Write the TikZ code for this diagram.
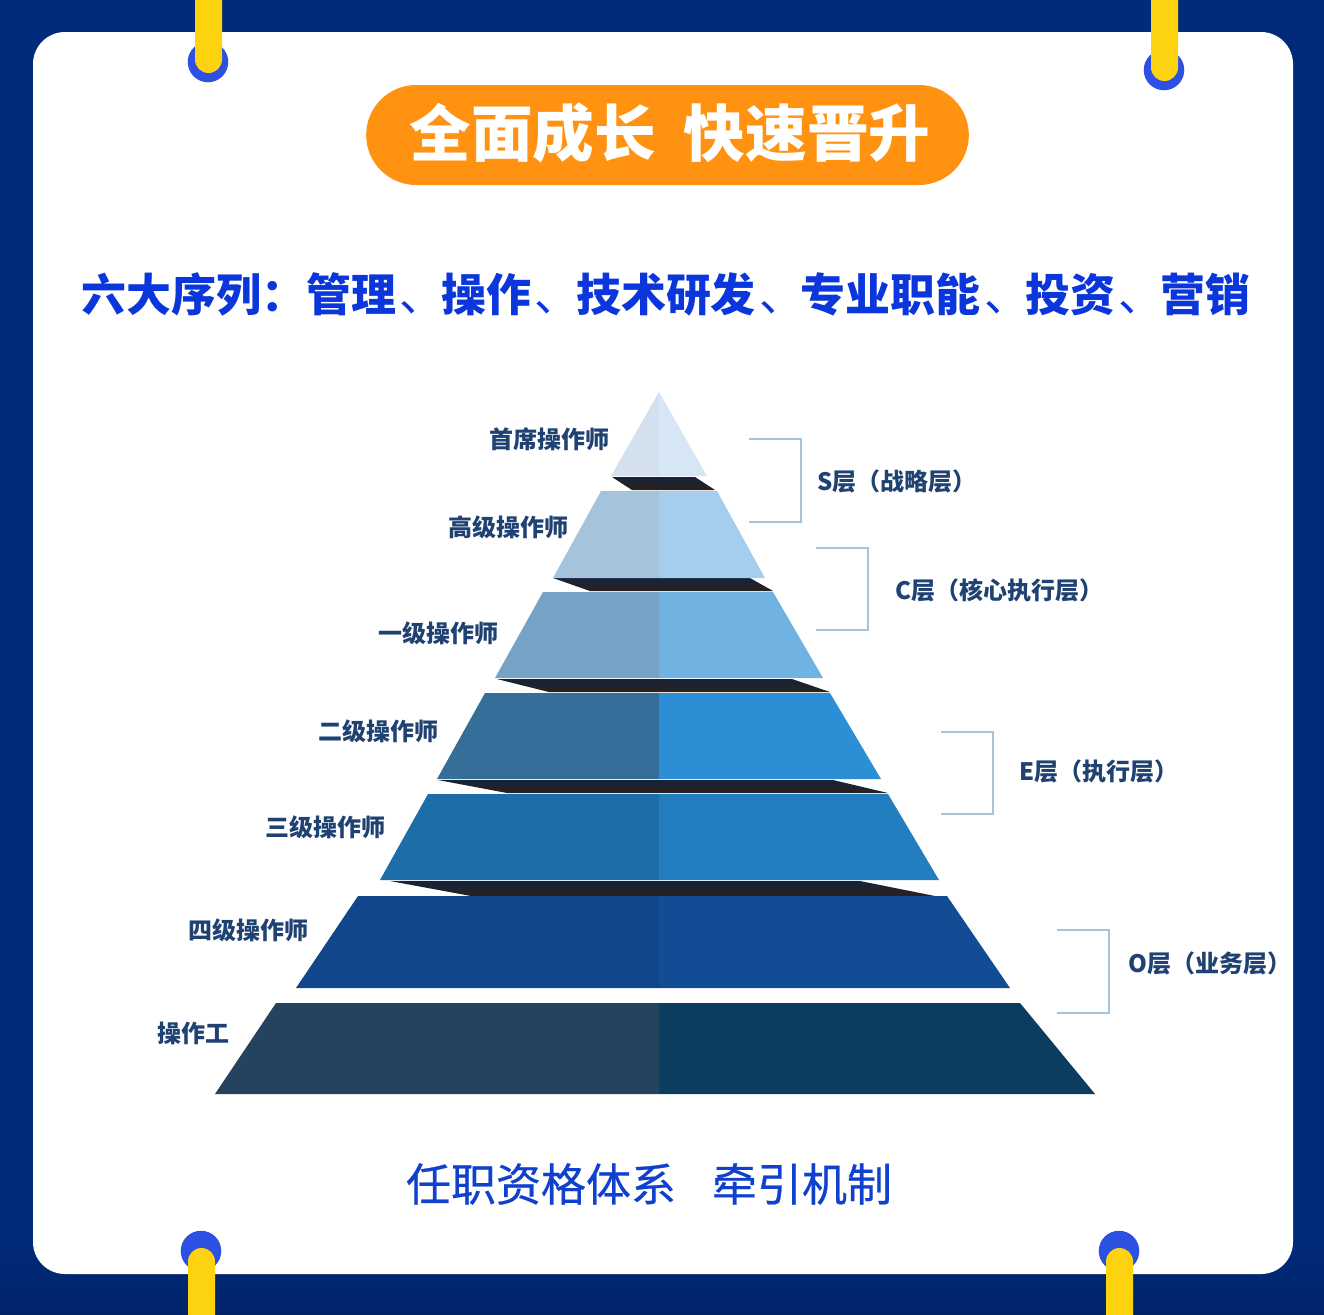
\documentclass[tikz,border=0pt]{standalone}
\usepackage{fontspec}
\setmainfont{Noto Sans CJK SC}
\newfontfamily\footfont[FakeBold=0.5]{Noto Sans CJK SC}
\definecolor{navyA}{HTML}{012B7A}
\definecolor{navyB}{HTML}{02349C}
\definecolor{navyC}{HTML}{00246A}
\definecolor{pinblue}{HTML}{2B50E2}
\definecolor{pinyellow}{HTML}{FDD20E}
\definecolor{pillorange}{HTML}{FF9311}
\definecolor{headblue}{HTML}{0A36DC}
\definecolor{footblue}{HTML}{1040CE}
\definecolor{labnavy}{HTML}{1F4273}
\definecolor{bracketc}{HTML}{A9C4D8}
\definecolor{shadowtop}{HTML}{14233A}
\definecolor{shadowbot}{HTML}{2A211F}
\tikzset{
  x=0.75pt,y=-0.75pt,
  pinbar/.style={fill=pinyellow,rounded corners=10.1pt},
  pindot/.style={fill=pinblue},
  bracket/.style={draw=bracketc,line width=1.2pt,line join=miter},
  shadowpoly/.style={top color=shadowtop,middle color=shadowbot,bottom color=shadowbot},
  lab/.style={font=\fontsize{18}{20}\selectfont\bfseries,text=labnavy,inner sep=0pt},
  tierlab/.style={lab,anchor=west},
  rowlab/.style={lab,anchor=east},
}
\newcommand{\tierpoly}[8]{%
  \fill[#7] (659,#1) -- (#3,#1) -- (#4,#2) -- (659,#2) -- cycle;
  \fill[#8] (659,#1) -- (#5,#1) -- (#6,#2) -- (659,#2) -- cycle;
}
\newcommand{\dunhao}{\hspace{.08em}{\mdseries 、}\hspace{-.08em}}
\begin{document}
\begin{tikzpicture}
\useasboundingbox (0,0) rectangle (1324,1314);
\clip (0,0) rectangle (1324,1314);
% background
\fill[navyA] (0,0) rectangle (1324,1314);
\shade[top color=navyA,middle color=navyB,bottom color=navyC] (0,1234) rectangle (1324,1314);
\fill[white,rounded corners=24pt] (33,32) rectangle (1293,1274);
% pins
\fill[pindot] (208,62) circle (15.2pt);
\fill[pinbar] (195,-40) rectangle (222,73);
\fill[pindot] (1164,70) circle (15.2pt);
\fill[pinbar] (1151,-40) rectangle (1178,81);
\fill[pindot] (201,1251) circle (15.2pt);
\fill[pinbar] (188,1248) rectangle (215,1360);
\fill[pindot] (1119,1251) circle (15.2pt);
\fill[pinbar] (1106,1248) rectangle (1133,1360);
% title
\node (pill) [fill=pillorange,rounded corners=37.5pt,minimum width=452pt,minimum height=75pt,inner sep=0pt] at (667.5,135) {};
\node (title) [text=white,inner sep=0pt,font=\fontsize{46.2}{50}\selectfont\bfseries] at (670,133)
  {全面成长\hspace{21pt}快速晋升};
\node (heading) [text=headblue,inner sep=0pt,font=\fontsize{33.7}{38}\selectfont\bfseries] at (666,294)
  {六大序列：管理\dunhao 操作\dunhao 技术研发\dunhao 专业职能\dunhao 投资\dunhao 营销};
% pyramid
\shade[shadowpoly] (612,477) -- (695,477) -- (715,490) -- (632,490) -- cycle;
\shade[shadowpoly] (553,578) -- (750,578) -- (773,591) -- (590,591) -- cycle;
\shade[shadowpoly] (497,679) -- (792,679) -- (830,692) -- (549,692) -- cycle;
\shade[shadowpoly] (438,780) -- (833,780) -- (888,793) -- (507,793) -- cycle;
\shade[shadowpoly] (390,881) -- (860,881) -- (935,896) -- (471,896) -- cycle;
\definecolor{aL}{HTML}{D3E0EE}\definecolor{aR}{HTML}{D6E6F5}
\definecolor{bL}{HTML}{A6C3DC}\definecolor{bR}{HTML}{A4CDEE}
\definecolor{cL}{HTML}{76A2C6}\definecolor{cR}{HTML}{70B2E2}
\definecolor{dL}{HTML}{366E9A}\definecolor{dR}{HTML}{2C8FD6}
\definecolor{eL}{HTML}{1C6DA8}\definecolor{eR}{HTML}{227EBE}
\definecolor{fL}{HTML}{11468A}\definecolor{fR}{HTML}{114C94}
\definecolor{gL}{HTML}{24435F}\definecolor{gR}{HTML}{0C3D60}
\tierpoly{392}{476}{659}{611}{659}{707}{aL}{aR}
\tierpoly{491}{578}{601}{553}{717}{765}{bL}{bR}
\tierpoly{592}{678}{543}{495}{773}{823}{cL}{cR}
\tierpoly{693}{779}{485}{437}{830}{881}{dL}{dR}
\tierpoly{794}{880}{428}{380}{888}{939}{eL}{eR}
\tierpoly{896}{988}{358}{296}{947}{1010}{fL}{fR}
\tierpoly{1003}{1094}{276}{215}{1020}{1095}{gL}{gR}
% row labels
\node (r1) [rowlab] at (610,439) {首席操作师};
\node (r2) [rowlab] at (569,527) {高级操作师};
\node (r3) [rowlab] at (499,633) {一级操作师};
\node (r4) [rowlab] at (439,731) {二级操作师};
\node (r5) [rowlab] at (386,827) {三级操作师};
\node (r6) [rowlab] at (309,930) {四级操作师};
\node (r7) [rowlab] at (230,1033) {操作工};
% brackets
\draw[bracket] (749,439) -- (801,439) -- (801,522) -- (749,522);
\draw[bracket] (816,548) -- (868,548) -- (868,630) -- (816,630);
\draw[bracket] (941,732) -- (993,732) -- (993,814) -- (941,814);
\draw[bracket] (1057,930) -- (1109,930) -- (1109,1013) -- (1057,1013);
\node (s1) [tierlab] at (817,481) {S层（战略层）};
\node (s2) [tierlab] at (895,590) {C层（核心执行层）};
\node (s3) [tierlab] at (1019,771) {E层（执行层）};
\node (s4) [tierlab] at (1128,963) {O层（业务层）};
% footer
\node (foot) [text=footblue,inner sep=0pt,font=\footfont\fontsize{33.75}{38}\selectfont] at (649,1184)
  {任职资格体系\hspace{27pt}牵引机制};
\end{tikzpicture}
\end{document}
